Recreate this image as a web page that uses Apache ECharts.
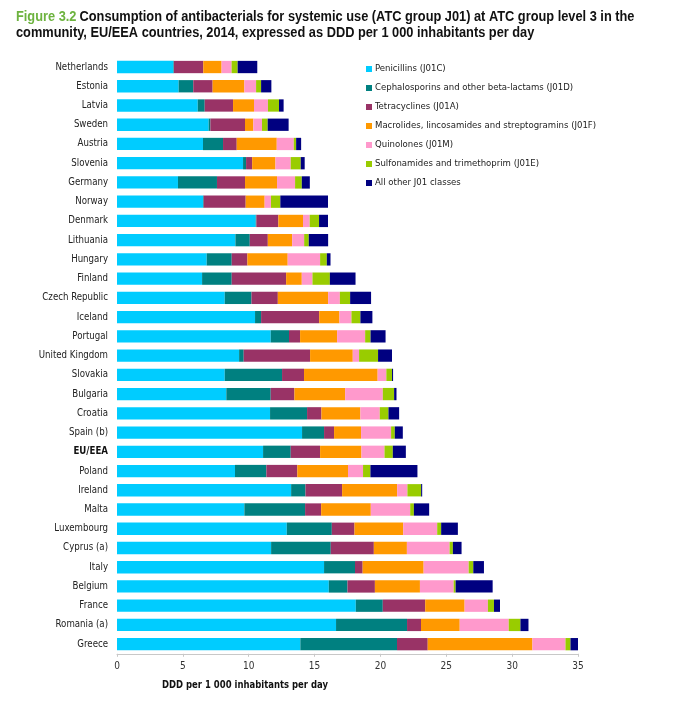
<!DOCTYPE html>
<html><head><meta charset="utf-8">
<script src="https://cdn.jsdelivr.net/npm/echarts@6/dist/echarts.min.js"></script>
<style>html,body{margin:0;padding:0;background:#fff}#c{width:688px;height:702px}</style>
</head><body><div id="c"></div>
<script>
const countries = ["Netherlands","Estonia","Latvia","Sweden","Austria","Slovenia","Germany","Norway","Denmark","Lithuania","Hungary","Finland","Czech Republic","Iceland","Portugal","United Kingdom","Slovakia","Bulgaria","Croatia","Spain (b)","EU/EEA","Poland","Ireland","Malta","Luxembourg","Cyprus (a)","Italy","Belgium","France","Romania (a)","Greece"];
const penicillins = [4.28,4.68,6.13,6.96,6.53,9.57,4.63,6.53,10.53,8.99,6.81,6.46,8.18,10.48,11.67,9.27,8.18,8.30,11.62,14.05,11.09,8.96,13.22,9.67,12.89,11.70,15.72,16.08,18.13,16.63,13.92];
const cephalosporins = [0.04,1.11,0.53,0.13,1.52,0.23,2.96,0.05,0.05,1.09,1.90,2.25,2.03,0.46,1.39,0.35,4.35,3.37,2.81,1.67,2.10,2.38,1.09,4.61,3.42,4.53,2.35,1.42,2.05,5.39,7.34];
const tetracyclines = [2.23,1.47,2.15,2.63,1.04,0.46,2.13,3.19,1.67,1.37,1.19,4.13,2.00,4.41,0.84,5.04,1.67,1.80,1.09,0.76,2.23,2.35,2.78,1.22,1.72,3.27,0.58,2.08,3.22,1.06,2.33];
const macrolides = [1.39,2.41,1.59,0.63,3.04,1.77,2.43,1.44,1.87,1.85,3.06,1.19,3.82,1.54,2.81,3.24,5.59,3.85,2.96,2.05,3.14,3.85,4.18,3.77,3.70,2.51,4.63,3.42,2.99,2.94,7.95];
const quinolones = [0.76,0.89,1.06,0.66,1.29,1.16,1.37,0.48,0.51,0.91,2.46,0.81,0.89,0.91,2.13,0.48,0.66,2.86,1.47,2.28,1.75,1.14,0.78,2.99,2.58,3.24,3.42,2.56,1.77,3.72,2.51];
const sulfonamides = [0.46,0.38,0.84,0.43,0.18,0.76,0.51,0.71,0.71,0.35,0.51,1.32,0.78,0.68,0.41,1.44,0.43,0.86,0.66,0.28,0.63,0.56,1.04,0.28,0.30,0.25,0.35,0.15,0.46,0.89,0.38];
const otherJ01 = [1.49,0.78,0.35,1.59,0.38,0.30,0.61,3.62,0.68,1.47,0.28,1.95,1.59,0.91,1.14,1.06,0.08,0.18,0.81,0.61,0.99,3.57,0.08,1.16,1.27,0.66,0.81,2.81,0.46,0.61,0.66];
const seriesNames = ["Penicillins (J01C)","Cephalosporins and other beta-lactams (J01D)","Tetracyclines (J01A)","Macrolides, lincosamides and streptogramins (J01F)","Quinolones (J01M)","Sulfonamides and trimethoprim (J01E)","All other J01 classes"];
const xTicks = [0,5,10,15,20,25,30,35];
const titleFigure = "Figure 3.2";
const titleLine1 = "Consumption of antibacterials for systemic use (ATC group J01) at ATC group level 3 in the";
const titleLine2 = "community, EU/EEA countries, 2014, expressed as DDD per 1 000 inhabitants per day";
const axisTitle = "DDD per 1 000 inhabitants per day";

const colors = ["#00ccff","#008080","#993366","#ff9900","#ff99cc","#99cc00","#000080"];
const dataSets = [penicillins,cephalosporins,tetracyclines,macrolides,quinolones,sulfonamides,otherJ01];
const labelFont = "'DejaVu Sans Condensed','DejaVu Sans',sans-serif";
const titleFont = "'Liberation Sans',Arial,sans-serif";

// measure text to fit condensed widths of the reference
const mctx = document.createElement('canvas').getContext('2d');
function textW(str, font){ mctx.font = font; return mctx.measureText(str).width; }
const tFontCss = "bold 14px " + titleFont;
const line1W = textW(titleFigure + " " + titleLine1, tFontCss);
const titleScale = 619 / line1W;
const aFontCss = "bold 10px 'DejaVu Sans',sans-serif";
const axisScale = 166 / textW(axisTitle, aFontCss);

const chart = echarts.init(document.getElementById('c'), null, {renderer:'canvas'});
chart.setOption({
  animation:false,
  color:colors,
  legend:{
    orient:'vertical', left:361, top:58,
    itemWidth:6, itemHeight:6, itemGap:7, icon:'rect',
    textStyle:{fontSize:9.5, fontFamily:labelFont, color:"#222", lineHeight:12, padding:[0,0,0,-2]},
    data:seriesNames
  },
  grid:{left:117, right:110, top:57.4, bottom:702-653.8, containLabel:false},
  xAxis:{
    type:'value', min:0, max:35, interval:5,
    axisLine:{show:true, lineStyle:{color:"#c8c8c8"}},
    axisTick:{show:true, length:3, lineStyle:{color:"#c8c8c8"}},
    splitLine:{show:false},
    axisLabel:{fontSize:10, fontFamily:labelFont, color:"#333", margin:8,
      formatter:function(v){return xTicks.indexOf(v)>=0?String(v):'';}}
  },
  yAxis:{
    type:'category', data:countries, inverse:true,
    axisLine:{show:false}, axisTick:{show:false},
    axisLabel:{fontSize:9.6, fontFamily:labelFont, color:"#222", margin:9,
      formatter:function(v){return v==="EU/EEA"?"{bold|"+v+"}":v;},
      rich:{bold:{fontWeight:"bold",fontSize:9.6,fontFamily:labelFont,color:"#111"}}}
  },
  graphic:[
    {type:'text', x:16, y:17, scaleX:titleScale, scaleY:1,
      style:{text:"{g|"+titleFigure+"} {b|"+titleLine1+"}", verticalAlign:'middle', textVerticalAlign:'middle',
        rich:{
          g:{fill:"#6db33f",fontWeight:"bold",fontSize:14,fontFamily:titleFont},
          b:{fill:"#111",fontWeight:"bold",fontSize:14,fontFamily:titleFont}
        }}},
    {type:'text', x:16, y:33, scaleX:titleScale, scaleY:1,
      style:{text:titleLine2, verticalAlign:'middle', textVerticalAlign:'middle',
        fill:"#111", fontWeight:"bold", fontSize:14, fontFamily:titleFont}},
    {type:'text', x:162, y:685, scaleX:axisScale, scaleY:1,
      style:{text:axisTitle, verticalAlign:'middle', textVerticalAlign:'middle',
        fontSize:10, fontWeight:'bold', fontFamily:"'DejaVu Sans',sans-serif", fill:"#111"}}
  ],
  series: seriesNames.map(function(n,i){
    return {name:n, type:'bar', stack:'total', barWidth:12.3, data:dataSets[i], itemStyle:{color:colors[i]}};
  })
});
</script></body></html>
